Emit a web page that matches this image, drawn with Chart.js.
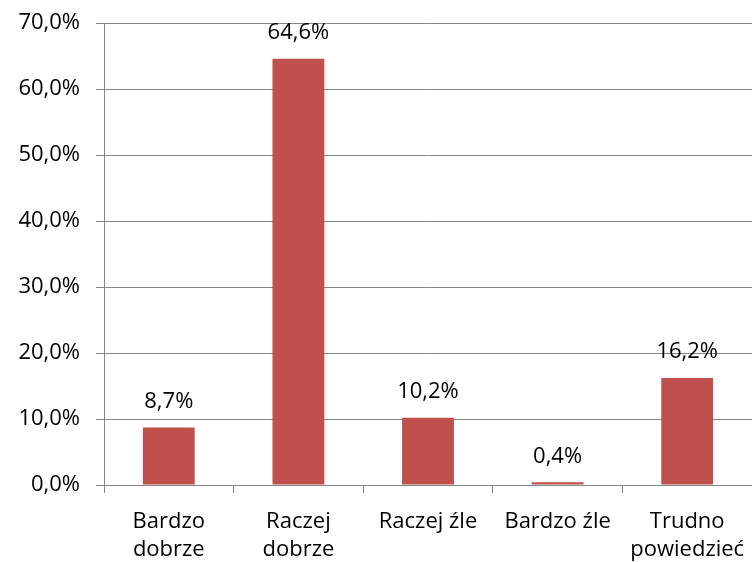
<!DOCTYPE html>
<html>
<head>
<meta charset="utf-8">
<script src="https://cdn.jsdelivr.net/npm/chart.js@4"></script>
<style>
  html, body { margin: 0; padding: 0; background: #fff; }
  #box { width: 752px; height: 562px; }
</style>
</head>
<body>
<div id="box"><canvas id="wykres"></canvas></div>
<script>
// dane
const kategorie = [['Bardzo', 'dobrze'], ['Raczej', 'dobrze'], 'Raczej źle', 'Bardzo źle', ['Trudno', 'powiedzieć']]
const procenty = [8.7, 64.6, 10.2, 0.4, 16.2]
const osY = [0, 10, 20, 30, 40, 50, 60, 70]

const fmt = (v) => v.toFixed(1).replace('.', ',') + '%'

// etykiety nad słupkami
const etykiety = {
    id: 'etykiety',
    afterDatasetsDraw(chart) {
        const ctx = chart.ctx
        const meta = chart.getDatasetMeta(0)
        ctx.save()
        ctx.font = '22px "Open Sans"'
        ctx.fillStyle = '#000'
        ctx.textAlign = 'center'
        ctx.textBaseline = 'middle'
        meta.data.forEach((bar, i) => {
            ctx.fillText(fmt(procenty[i]), bar.x, bar.y - 26)
        })
        ctx.restore()
    }
}

let ctx = document.getElementById('wykres').getContext('2d')
let wykres = new Chart(ctx, {
    type: 'bar',
    data: {
        labels: kategorie,
        datasets: [{
            data: procenty,
            backgroundColor: '#C0504D',
            barPercentage: 0.4,
            categoryPercentage: 1
        }]
    },
    options: {
        responsive: true,
        maintainAspectRatio: false,
        animation: false,
        layout: { padding: { top: 23, right: 0, left: 0, bottom: 0 } },
        plugins: { legend: { display: false }, tooltip: { enabled: false } },
        scales: {
            x: {
                offset: true,
                afterFit(axis) { axis.height = 77; axis.paddingRight = 0 },
                grid: { drawOnChartArea: false, color: '#868686', tickLength: 8, offset: true },
                border: { color: '#868686' },
                ticks: { color: '#000', font: { family: 'Open Sans', size: 22, lineHeight: 1.25 }, padding: 15, maxRotation: 0, autoSkip: false }
            },
            y: {
                min: osY[0],
                max: osY[osY.length - 1],
                afterBuildTicks(axis) { axis.ticks = osY.map(v => ({ value: v })) },
                afterFit(axis) { axis.width = 104; axis.paddingTop = 0; axis.paddingBottom = 0 },
                grid: { color: '#868686', tickLength: 8 },
                border: { color: '#868686' },
                ticks: { color: '#000', font: { family: 'Open Sans', size: 22 }, padding: 16, callback: (v) => fmt(v) }
            }
        }
    },
    plugins: [etykiety]
})
</script>
</body>
</html>
